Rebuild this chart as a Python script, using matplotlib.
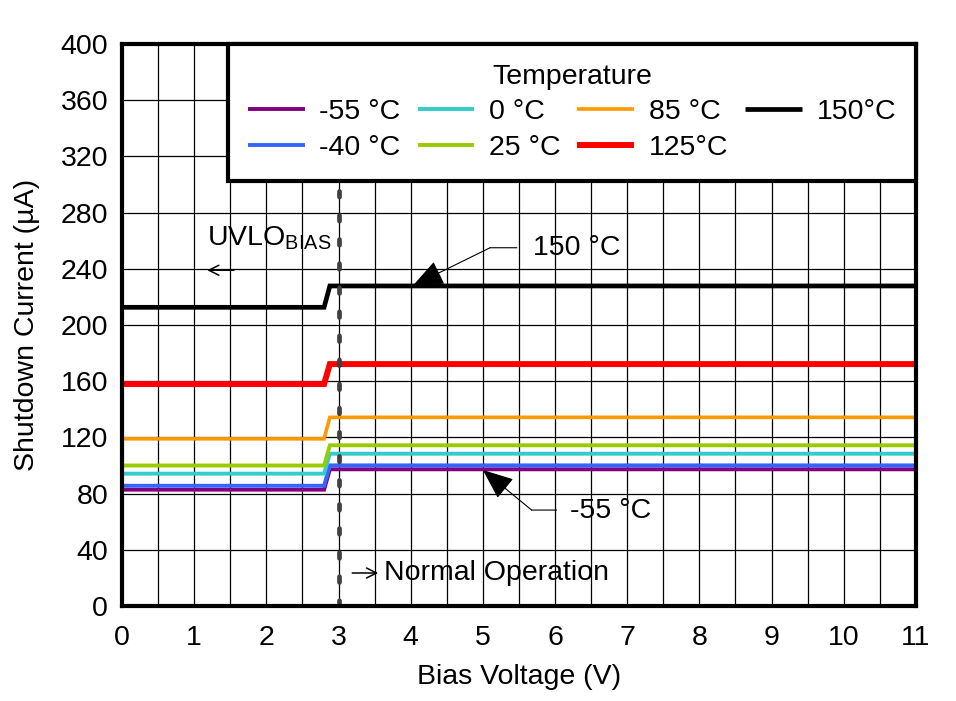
import matplotlib
matplotlib.use("Agg")
import matplotlib.pyplot as plt
from matplotlib.ticker import MultipleLocator

plt.rcParams['font.family'] = ['Liberation Sans', 'DejaVu Sans']
plt.rcParams['mathtext.fontset'] = 'custom'
plt.rcParams['mathtext.rm'] = 'Liberation Sans'

FS = 20.5

# Bias voltage sample points (V)
voltage = [0, 2.8, 2.88, 11]

# Shutdown current (uA) per temperature
i_m55 = [82.8, 82.8, 97.3, 97.3]
i_m40 = [85.6, 85.6, 100.1, 100.1]
i_0 = [94.2, 94.2, 108.4, 108.4]
i_25 = [100.0, 100.0, 114.4, 114.4]
i_85 = [119.0, 119.0, 134.3, 134.3]
i_125 = [158.0, 158.0, 172.2, 172.2]
i_150 = [212.6, 212.6, 227.8, 227.8]

labels = ['-55 °C', '-40 °C', '0 °C', '25 °C', '85 °C', '125°C', '150°C']
colors = ['#800080', '#3366ff', '#33cccc', '#99cc00', '#ff9900', '#ff0000', '#000000']
widths = [2.8, 2.8, 2.8, 2.8, 2.6, 4.3, 3.4]
series = [i_m55, i_m40, i_0, i_25, i_85, i_125, i_150]

xticks = list(range(0, 12))
yticks = list(range(0, 401, 40))

fig = plt.figure(figsize=(9.56, 7.01), dpi=100)
ax = fig.add_axes([0.1276, 0.1355, 0.8305, 0.8017])

for y, lab, c, lw in zip(series, labels, colors, widths):
    ax.plot(voltage, y, color=c, lw=lw, label=lab, zorder=3,
            solid_capstyle='butt', solid_joinstyle='miter')

ax.axvline(3, color='#404040', lw=3.4, zorder=4, dash_capstyle='round',
           linestyle=(0, (1.2, 3.9)))

ax.set_xlim(0, 11)
ax.set_ylim(0, 400)
ax.set_xticks(xticks)
ax.set_yticks(yticks)
ax.xaxis.set_minor_locator(MultipleLocator(0.5))
ax.grid(True, which='both', axis='x', color='black', lw=0.9)
ax.grid(True, which='major', axis='y', color='black', lw=0.9)
ax.set_axisbelow(True)
ax.tick_params(which='both', length=0, labelsize=FS)
ax.tick_params(axis='x', pad=14)
ax.tick_params(axis='y', pad=10)
for s in ax.spines.values():
    s.set_linewidth(3)
    s.set_zorder(6)

ax.set_xlabel('Bias Voltage (V)', fontsize=FS, labelpad=9)
ax.set_ylabel('Shutdown Current (µA)', fontsize=FS, labelpad=15)

leg = ax.legend(title='Temperature', ncol=4, loc='upper right',
                bbox_to_anchor=(1, 1), borderaxespad=0, fontsize=FS,
                title_fontsize=FS, handlelength=2.0, handletextpad=0.5,
                columnspacing=0.6, labelspacing=0.33, borderpad=0.7,
                fancybox=False, edgecolor='black', framealpha=1)
leg.get_frame().set_linewidth(3)
leg.set_zorder(7)

# annotations
ax.text(1.18, 262, r'UVLO$_{\mathregular{BIAS}}$', fontsize=FS, va='center', ha='left')
ax.annotate('', xy=(1.18, 239), xytext=(1.55, 239),
            arrowprops=dict(arrowstyle='->', lw=1.1, shrinkA=0, shrinkB=0,
                            mutation_scale=18))
ax.annotate('', xy=(3.55, 23.5), xytext=(3.19, 23.5),
            arrowprops=dict(arrowstyle='->', lw=1.1, shrinkA=0, shrinkB=0,
                            mutation_scale=18))
ax.text(3.63, 23.5, 'Normal Operation', fontsize=FS, va='center', ha='left')

# 150 C callout
ax.text(5.69, 254.8, '150 °C', fontsize=FS, va='center', ha='left')
ax.annotate('', xy=(5.10, 255), xytext=(5.47, 255),
            arrowprops=dict(arrowstyle='-', lw=0.8, shrinkA=0, shrinkB=0))
ax.annotate('', xy=(4.03, 228), xytext=(5.10, 255),
            arrowprops=dict(arrowstyle='-|>,head_length=0.97,head_width=0.4',
                            lw=0.8, shrinkA=0, shrinkB=0, mutation_scale=20,
                            color='black'), zorder=5)

# -55 C callout
ax.text(6.21, 67.6, '-55 °C', fontsize=FS, va='center', ha='left')
ax.annotate('', xy=(5.675, 68.3), xytext=(6.02, 68.3),
            arrowprops=dict(arrowstyle='-', lw=0.8, shrinkA=0, shrinkB=0))
ax.annotate('', xy=(5.0, 96.8), xytext=(5.675, 68.3),
            arrowprops=dict(arrowstyle='-|>,head_length=0.97,head_width=0.4',
                            lw=0.8, shrinkA=0, shrinkB=0, mutation_scale=20,
                            color='black'), zorder=5)

fig.savefig('out.png', dpi=100)
